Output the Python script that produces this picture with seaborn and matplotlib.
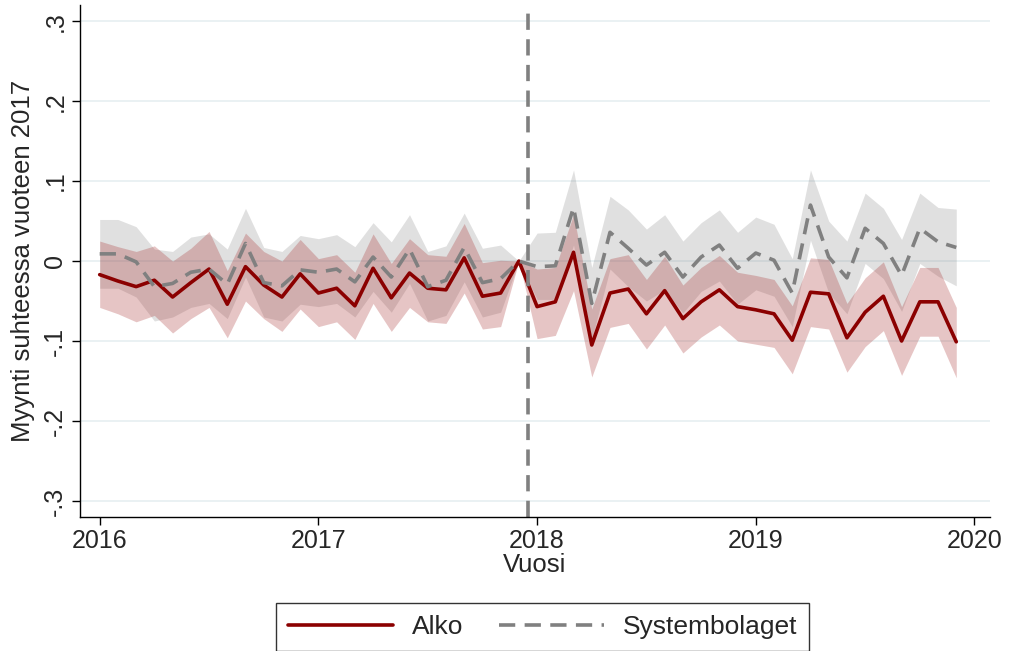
import numpy as np
import pandas as pd
import matplotlib
matplotlib.use("Agg")
import matplotlib.pyplot as plt
import seaborn as sns

# --- data (monthly, Jan 2016 .. Dec 2019) ---
alko = [-0.017, -0.025, -0.032, -0.024, -0.045, -0.027, -0.010, -0.054, -0.007, -0.030, -0.045, -0.016,
        -0.040, -0.034, -0.056, -0.009, -0.046, -0.015, -0.034, -0.036, 0.004, -0.044, -0.040, 0.000,
        -0.057, -0.051, 0.011, -0.105, -0.040, -0.035, -0.066, -0.037, -0.072, -0.051, -0.036, -0.057,
        -0.061, -0.066, -0.099, -0.039, -0.041, -0.096, -0.064, -0.044, -0.100, -0.051, -0.051, -0.101]
alko_hi = [0.025, 0.018, 0.012, 0.019, 0.000, 0.016, 0.037, -0.012, 0.035, 0.012, 0.000, 0.027,
           0.003, 0.008, -0.014, 0.034, -0.003, 0.028, 0.008, 0.006, 0.047, -0.002, 0.001, 0.000,
           -0.010, -0.008, 0.058, -0.060, 0.003, 0.008, -0.023, 0.006, -0.030, -0.008, 0.007, -0.014,
           -0.018, -0.023, -0.056, 0.004, 0.002, -0.053, -0.021, -0.001, -0.057, -0.008, -0.008, -0.058]
alko_lo = [-0.058, -0.066, -0.076, -0.068, -0.090, -0.072, -0.058, -0.096, -0.050, -0.072, -0.088, -0.060,
           -0.082, -0.076, -0.098, -0.053, -0.088, -0.058, -0.076, -0.078, -0.040, -0.085, -0.082, 0.000,
           -0.097, -0.093, -0.037, -0.145, -0.083, -0.078, -0.110, -0.080, -0.115, -0.095, -0.080, -0.100,
           -0.104, -0.108, -0.141, -0.082, -0.085, -0.139, -0.107, -0.087, -0.143, -0.094, -0.094, -0.146]

sysb = [0.009, 0.009, -0.001, -0.032, -0.028, -0.014, -0.010, -0.029, 0.022, -0.027, -0.031, -0.011,
        -0.014, -0.010, -0.026, 0.005, -0.020, 0.015, -0.032, -0.024, 0.017, -0.027, -0.022, 0.000,
        -0.007, -0.006, 0.067, -0.053, 0.036, 0.016, -0.005, 0.011, -0.020, 0.005, 0.020, -0.009,
        0.010, 0.001, -0.040, 0.070, 0.005, -0.021, 0.041, 0.022, -0.018, 0.041, 0.024, 0.017]
sysb_hi = [0.052, 0.052, 0.043, 0.015, 0.012, 0.030, 0.034, 0.015, 0.066, 0.017, 0.012, 0.032,
           0.028, 0.033, 0.018, 0.048, 0.024, 0.058, 0.012, 0.019, 0.060, 0.016, 0.020, 0.000,
           0.035, 0.036, 0.114, -0.008, 0.081, 0.064, 0.040, 0.058, 0.025, 0.048, 0.064, 0.036,
           0.055, 0.046, 0.003, 0.114, 0.050, 0.025, 0.085, 0.066, 0.027, 0.085, 0.067, 0.065]
sysb_lo = [-0.034, -0.034, -0.045, -0.075, -0.070, -0.058, -0.053, -0.072, -0.020, -0.070, -0.075, -0.054,
           -0.057, -0.053, -0.070, -0.038, -0.064, -0.028, -0.075, -0.068, -0.026, -0.070, -0.064, 0.000,
           -0.048, -0.048, 0.020, -0.098, -0.010, -0.032, -0.050, -0.036, -0.065, -0.038, -0.025, -0.054,
           -0.036, -0.044, -0.082, 0.026, -0.040, -0.066, -0.003, -0.022, -0.063, -0.003, -0.019, -0.031]

year_ticks = [2016, 2017, 2018, 2019, 2020]
y_ticks = [-0.3, -0.2, -0.1, 0, 0.1, 0.2, 0.3]
y_tick_labels = ["-.3", "-.2", "-.1", "0", ".1", ".2", ".3"]

# months as fractional years
t = 2016 + np.arange(len(alko)) / 12
df = pd.DataFrame({
    "t": np.concatenate([t, t]),
    "val": alko + sysb,
    "series": ["Alko"] * len(alko) + ["Systembolaget"] * len(sysb),
})

sns.set_style("white")
plt.rcParams["font.family"] = ["Liberation Sans", "DejaVu Sans"]

FS = 18
fig = plt.figure(figsize=(10.1, 6.51), dpi=100)
ax = fig.add_axes([0.079, 0.206, 0.901, 0.786])

red = "#8b0000"
grey = "#808080"
dash = (4.5, 2.6)

ax.fill_between(t, sysb_lo, sysb_hi, color=grey, alpha=0.24, linewidth=0)
ax.fill_between(t, alko_lo, alko_hi, color="#a52a2a", alpha=0.27, linewidth=0)

sns.lineplot(data=df, x="t", y="val", hue="series", style="series",
             palette={"Alko": red, "Systembolaget": grey},
             dashes={"Alko": "", "Systembolaget": dash},
             linewidth=2.6, ax=ax, legend=False)

ax.axvline(2016 + 23.5 / 12, color=grey, linestyle=(0, dash), linewidth=2.6)

ax.set_xlim(2015.909, 2020.07)
ax.set_ylim(-0.32, 0.32)
ax.set_xticks(year_ticks)
ax.set_xticklabels([str(y) for y in year_ticks], fontsize=FS)
ax.set_yticks(y_ticks)
ax.set_yticklabels(y_tick_labels, fontsize=FS, rotation=90, va="center")
for yv in y_ticks:
    ax.axhline(yv, color="#e6eff1", linewidth=1.2, zorder=0)

ax.tick_params(axis="both", bottom=True, left=True, length=6, width=1,
               color="black", direction="out", pad=3)
for s in ["top", "right"]:
    ax.spines[s].set_visible(False)
for s in ["left", "bottom"]:
    ax.spines[s].set_color("black")
    ax.spines[s].set_linewidth(1)

ax.set_xlabel("Vuosi", fontsize=18.5, labelpad=0)
ax.set_ylabel("Myynti suhteessa vuoteen 2017", fontsize=18.5, labelpad=6)

handles = [plt.Line2D([], [], color=red, linewidth=2.6),
           plt.Line2D([], [], color=grey, linewidth=2.6, linestyle=(0, dash))]
leg = fig.legend(handles, ["Alko", "Systembolaget"], loc="upper center",
                 bbox_to_anchor=(0.537, 1 - 603 / 651), ncol=2, fontsize=19,
                 frameon=True, fancybox=False, edgecolor="black",
                 handlelength=4.0, handletextpad=0.7, columnspacing=1.35,
                 borderpad=0.45, borderaxespad=0)
leg.get_frame().set_linewidth(1)

fig.savefig("out.png", dpi=100)
